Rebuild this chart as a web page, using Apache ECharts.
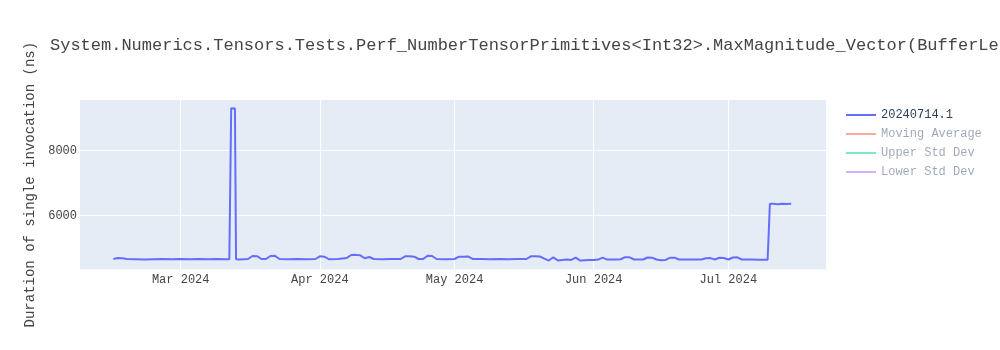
<!DOCTYPE html>
<html>
<head>
<meta charset="utf-8">
<script src="https://cdn.jsdelivr.net/npm/echarts@6/dist/echarts.min.js"></script>
<style>html,body{margin:0;padding:0;background:#fff}#c{width:1000px;height:350px}</style>
</head>
<body>
<div id="c"></div>
<script>
const titleText = 'System.Numerics.Tensors.Tests.Perf_NumberTensorPrimitives<Int32>.MaxMagnitude_Vector(BufferLength: 3079)';
const yAxisTitle = 'Duration of single invocation (ns)';
const seriesNames = ['20240714.1', 'Moving Average', 'Upper Std Dev', 'Lower Std Dev'];

const dates = [
  '2024-02-15 00:00','2024-02-16 00:00','2024-02-17 00:00','2024-02-18 00:00','2024-02-20 00:00',
  '2024-02-22 00:00','2024-02-24 00:00','2024-02-26 00:00','2024-02-28 00:00','2024-03-01 00:00',
  '2024-03-03 00:00','2024-03-05 00:00','2024-03-07 00:00','2024-03-09 00:00','2024-03-11 00:00',
  '2024-03-11 20:00','2024-03-12 06:00','2024-03-13 02:00','2024-03-13 08:00','2024-03-14 00:00',
  '2024-03-15 00:00','2024-03-16 00:00','2024-03-17 00:00','2024-03-18 00:00','2024-03-19 00:00',
  '2024-03-20 00:00','2024-03-21 00:00','2024-03-22 00:00','2024-03-23 00:00','2024-03-25 00:00',
  '2024-03-27 00:00','2024-03-29 00:00','2024-03-31 00:00','2024-04-01 00:00','2024-04-02 00:00',
  '2024-04-03 00:00','2024-04-05 00:00','2024-04-07 00:00','2024-04-08 00:00','2024-04-09 00:00',
  '2024-04-10 00:00','2024-04-11 00:00','2024-04-12 00:00','2024-04-13 00:00','2024-04-15 00:00',
  '2024-04-17 00:00','2024-04-19 00:00','2024-04-20 00:00','2024-04-21 00:00','2024-04-22 00:00',
  '2024-04-23 00:00','2024-04-24 00:00','2024-04-25 00:00','2024-04-26 00:00','2024-04-27 00:00',
  '2024-04-29 00:00','2024-05-01 00:00','2024-05-02 00:00','2024-05-03 00:00','2024-05-04 00:00',
  '2024-05-05 00:00','2024-05-07 00:00','2024-05-09 00:00','2024-05-11 00:00','2024-05-13 00:00',
  '2024-05-15 00:00','2024-05-17 00:00','2024-05-18 00:00','2024-05-19 00:00','2024-05-20 00:00',
  '2024-05-21 00:00','2024-05-22 00:00','2024-05-23 00:00','2024-05-24 00:00','2024-05-25 00:00',
  '2024-05-26 00:00','2024-05-27 00:00','2024-05-28 00:00','2024-05-29 00:00','2024-05-30 00:00',
  '2024-05-31 00:00','2024-06-01 00:00','2024-06-02 00:00','2024-06-03 00:00','2024-06-04 00:00',
  '2024-06-06 00:00','2024-06-07 00:00','2024-06-08 00:00','2024-06-09 00:00','2024-06-10 00:00',
  '2024-06-12 00:00','2024-06-13 00:00','2024-06-14 00:00','2024-06-15 00:00','2024-06-16 00:00',
  '2024-06-17 00:00','2024-06-18 00:00','2024-06-19 00:00','2024-06-20 00:00','2024-06-22 00:00',
  '2024-06-24 00:00','2024-06-25 00:00','2024-06-26 00:00','2024-06-27 00:00','2024-06-28 00:00',
  '2024-06-29 00:00','2024-06-30 00:00','2024-07-01 00:00','2024-07-02 00:00','2024-07-03 00:00',
  '2024-07-04 00:00','2024-07-06 00:00','2024-07-08 00:00','2024-07-09 00:00','2024-07-09 18:00',
  '2024-07-10 06:00','2024-07-11 00:00','2024-07-12 00:00','2024-07-13 00:00','2024-07-14 00:00',
  '2024-07-15 00:00'
];
const durations = [
  4668,4698,4690,4668,4660,
  4650,4660,4668,4660,4668,
  4660,4668,4660,4668,4660,
  4660,9305,9300,4660,4650,
  4660,4668,4760,4755,4668,
  4668,4760,4765,4668,4660,
  4668,4660,4668,4750,4740,
  4660,4668,4700,4790,4795,
  4780,4690,4730,4668,4660,
  4668,4668,4750,4755,4740,
  4668,4668,4765,4760,4668,
  4660,4668,4740,4735,4745,
  4668,4668,4660,4668,4660,
  4668,4668,4750,4755,4745,
  4680,4620,4720,4625,4640,
  4650,4640,4710,4620,4630,
  4640,4640,4650,4710,4650,
  4652,4660,4725,4720,4652,
  4652,4715,4710,4652,4630,
  4640,4705,4710,4652,4652,
  4652,4652,4690,4695,4652,
  4705,4700,4652,4715,4720,
  4652,4652,4645,4645,4648,
  6370,6365,6350,6370,6360,
  6365
];

const yTicks = [6000, 8000];
const xTickDates = ['2024-03-01','2024-04-01','2024-05-01','2024-06-01','2024-07-01'];
const monthNames = ['Jan','Feb','Mar','Apr','May','Jun','Jul','Aug','Sep','Oct','Nov','Dec'];
const yRange = [4351, 9560];
const xRangeStart = '2024-02-07 13:40';
const xRangeEnd = '2024-07-22 18:00';

function parseLocal(s) {
  const [d, t] = s.split(' ');
  const [y, m, dd] = d.split('-').map(Number);
  let hh = 0, mm = 0;
  if (t) { [hh, mm] = t.split(':').map(Number); }
  return new Date(y, m - 1, dd, hh, mm).getTime();
}

const mainData = dates.map((d, i) => [parseLocal(d), durations[i]]);
const xTicks = xTickDates.map(parseLocal);
const font = 'Liberation Mono';
const textColor = '#444';

const chart = echarts.init(document.getElementById('c'), null, {renderer: 'canvas'});
chart.setOption({
  animation: false,
  backgroundColor: '#fff',
  title: {
    text: titleText,
    left: 45, top: 32,
    textStyle: {fontFamily: font, fontSize: 17, fontWeight: 'normal', color: textColor}
  },
  legend: {
    orient: 'vertical',
    left: 846, top: 108, padding: 0,
    icon: 'rect',
    itemWidth: 30, itemHeight: 2, itemGap: 5,
    data: seriesNames.map((n, i) => ({
      name: n,
      textStyle: {color: i === 0 ? '#2a3f5f' : 'rgba(42,63,95,0.45)'}
    })),
    textStyle: {fontFamily: font, fontSize: 12, lineHeight: 14},
    selectedMode: false
  },
  grid: {
    left: 80, right: 174, top: 100, bottom: 80.7,
    show: true, backgroundColor: '#e5ecf6', borderWidth: 0
  },
  xAxis: {
    type: 'value',
    min: parseLocal(xRangeStart),
    max: parseLocal(xRangeEnd),
    axisLine: {show: false},
    axisTick: {show: false, customValues: xTicks},
    splitLine: {show: true, lineStyle: {color: '#fff', width: 1}},
    axisLabel: {
      customValues: xTicks,
      fontFamily: font, fontSize: 12, color: textColor, margin: 5,
      formatter: v => { const d = new Date(v); return monthNames[d.getMonth()] + ' ' + d.getFullYear(); }
    }
  },
  yAxis: {
    type: 'value',
    min: yRange[0], max: yRange[1],
    name: yAxisTitle,
    nameLocation: 'middle',
    nameGap: 34,
    nameTextStyle: {fontFamily: font, fontSize: 14, color: textColor},
    axisLine: {show: false},
    axisTick: {show: false, customValues: yTicks},
    splitLine: {show: true, lineStyle: {color: '#fff', width: 1}},
    axisLabel: {customValues: yTicks, fontFamily: font, fontSize: 12, color: textColor, margin: 3,
      formatter: v => String(v)}
  },
  series: [
    {name: seriesNames[0], type: 'line', data: mainData, symbol: 'none', showSymbol: false,
     lineStyle: {color: '#636efa', width: 2}, itemStyle: {color: '#636efa'}},
    {name: seriesNames[1], type: 'line', data: [], symbol: 'none',
     lineStyle: {color: '#f7aa9d', width: 2}, itemStyle: {color: '#f7aa9d'}},
    {name: seriesNames[2], type: 'line', data: [], symbol: 'none',
     lineStyle: {color: '#80e6cb', width: 2}, itemStyle: {color: '#80e6cb'}},
    {name: seriesNames[3], type: 'line', data: [], symbol: 'none',
     lineStyle: {color: '#d5b1fd', width: 2}, itemStyle: {color: '#d5b1fd'}}
  ]
});
</script>
</body>
</html>
